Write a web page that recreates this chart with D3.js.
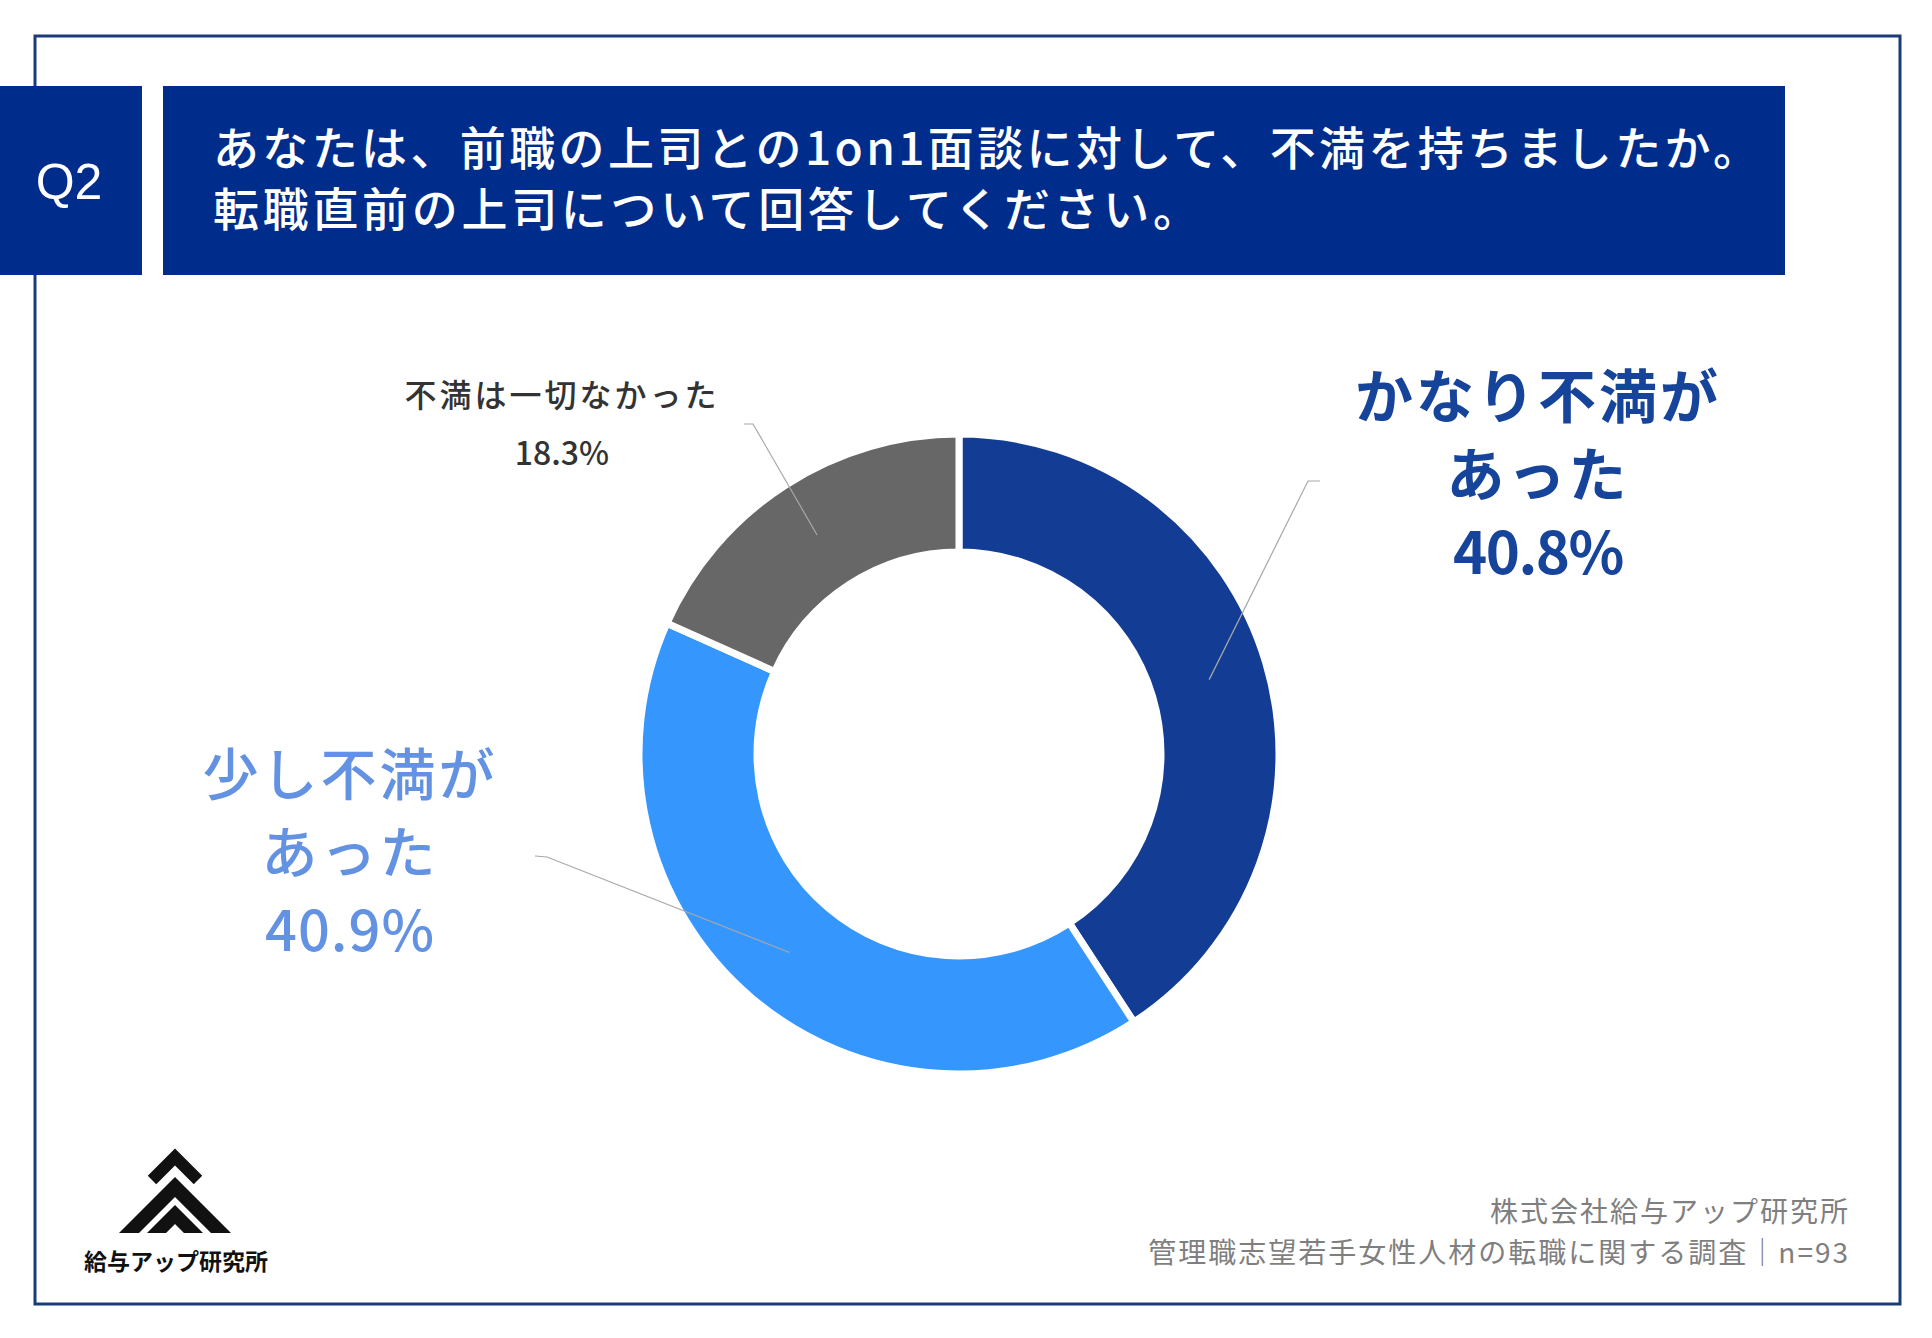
<!DOCTYPE html>
<html>
<head>
<meta charset="utf-8">
<script src="https://cdn.jsdelivr.net/npm/d3@7"></script>
<style>
  html, body { margin: 0; padding: 0; background: #fff; }
  svg { display: block; }
  text { font-family: "Noto Sans CJK JP", "Noto Sans", sans-serif; }
</style>
</head>
<body>
<div id="chart"></div>
<script>
// data
const categories = ["かなり不満があった", "少し不満があった", "不満は一切なかった"];
const shares = [40.8, 40.9, 18.3];
const labelLines = [
  ["かなり不満が", "あった"],
  ["少し不満が", "あった"],
  ["不満は一切なかった"]
];
const sliceColors = ["#133d95", "#3597fe", "#676767"];
const labelColors = ["#17449b", "#6392e2", "#333333"];

const questionNo = "Q2";
const titleLines = [
  "あなたは、前職の上司との1on1面談に対して、不満を持ちましたか。",
  "転職直前の上司について回答してください。"
];
const footerLines = [
  "株式会社給与アップ研究所",
  "管理職志望若手女性人材の転職に関する調査｜n=93"
];
const logoName = "給与アップ研究所";

const config = {
  width: 1932,
  height: 1338,
  cx: 959,
  cy: 754,
  outerRadius: 320,
  innerRadius: 202,
  // label block placement
  labels: [
    { x: 1538, y: 418, gap: 78, size: 58, weight: 700, spacing: 3, pctSpacing: -1.5, elbow: [1320, 481], knee: [1308, 481] },
    { x: 350, y: 795, gap: 78, size: 56, weight: 500, spacing: 3, pctSpacing: 1, elbow: [535, 856], knee: [547, 857] },
    { x: 562, y: 407, gap: 57, size: 32, weight: 500, spacing: 3, pctSpacing: 0, elbow: [744, 424], knee: [753, 424] }
  ]
};

const svg = d3.select("#chart")
  .append("svg")
  .attr("width", config.width)
  .attr("height", config.height);

// outer frame
svg.append("rect")
  .attr("x", 35).attr("y", 36)
  .attr("width", 1865).attr("height", 1268)
  .attr("fill", "none")
  .attr("stroke", "#1b3a78")
  .attr("stroke-width", 3);

// header boxes
svg.append("rect")
  .attr("x", 0).attr("y", 86)
  .attr("width", 142).attr("height", 189)
  .attr("fill", "#002d8b");

svg.append("rect")
  .attr("x", 163).attr("y", 86)
  .attr("width", 1622).attr("height", 189)
  .attr("fill", "#002d8b");

svg.append("text")
  .attr("x", 69).attr("y", 199)
  .attr("text-anchor", "middle")
  .attr("fill", "#fff")
  .style("font-family", "'Liberation Sans', Arial, sans-serif")
  .style("font-size", "50px")
  .text(questionNo);

const titleWidths = [1546, 986];
svg.selectAll(".title-line")
  .data(titleLines)
  .join("text")
  .attr("class", "title-line")
  .attr("x", 213)
  .attr("y", (d, i) => 165 + i * 61)
  .attr("fill", "#fff")
  .attr("textLength", (d, i) => titleWidths[i])
  .attr("lengthAdjust", "spacing")
  .style("font-size", "46px")
  .style("font-weight", 500)
  .text(d => d);

// donut
const pie = d3.pie().sort(null).value(d => d);
const arcs = pie(shares);

const arc = d3.arc()
  .innerRadius(config.innerRadius)
  .outerRadius(config.outerRadius);

const chart = svg.append("g")
  .attr("transform", `translate(${config.cx},${config.cy})`);

chart.selectAll(".slice")
  .data(arcs)
  .join("path")
  .attr("class", "slice")
  .attr("d", arc)
  .attr("fill", (d, i) => sliceColors[i])
  .attr("stroke", "#fff")
  .attr("stroke-width", 7);

// leader lines from slice centroid to label
svg.selectAll(".leader")
  .data(arcs)
  .join("polyline")
  .attr("class", "leader")
  .attr("points", (d, i) => {
    const c = arc.centroid(d);
    const l = config.labels[i];
    return [l.elbow, l.knee, [c[0] + config.cx, c[1] + config.cy]].map(p => p.join(",")).join(" ");
  })
  .attr("fill", "none")
  .attr("stroke", "#a8a8a8")
  .attr("stroke-width", 1.2);

// labels
const labelG = svg.selectAll(".label")
  .data(arcs)
  .join("text")
  .attr("class", "label")
  .attr("text-anchor", "middle")
  .attr("fill", (d, i) => labelColors[i])
  .style("font-size", (d, i) => config.labels[i].size + "px")
  .style("font-weight", (d, i) => config.labels[i].weight);

labelG.each(function (d, i) {
  const l = config.labels[i];
  const lines = labelLines[i].concat([shares[i].toFixed(1) + "%"]);
  const n = lines.length;
  d3.select(this).selectAll("tspan")
    .data(lines)
    .join("tspan")
    .attr("x", l.x)
    .attr("y", (t, j) => l.y + j * l.gap + (i === 2 && j === 1 ? 1 : 0))
    .style("letter-spacing", (t, j) => (j === n - 1 ? l.pctSpacing : l.spacing) + "px")
    .text(t => t);
});

// footer
svg.selectAll(".footer")
  .data(footerLines)
  .join("text")
  .attr("class", "footer")
  .attr("x", 1850)
  .attr("y", (d, i) => 1222 + i * 41)
  .attr("text-anchor", "end")
  .attr("fill", "#7f7f7f")
  .style("font-size", "28px")
  .style("letter-spacing", "2px")
  .text(d => d);

// logo
const logo = svg.append("g").attr("class", "logo");

function chevron(ax, ay, base, thick) {
  const h = base - ay;
  return [
    [ax - h, base], [ax, ay], [ax + h, base],
    [ax + h - thick, base], [ax, ay + thick], [ax - h + thick, base]
  ];
}

logo.append("polyline")
  .attr("points", [[152, 1180], [175, 1157], [198, 1180]].map(p => p.join(",")).join(" "))
  .attr("fill", "none")
  .attr("stroke", "#111")
  .attr("stroke-width", 12)
  .attr("stroke-linejoin", "miter");

[chevron(175, 1177, 1233, 20), chevron(175, 1205, 1233, 19)].forEach(pts => {
  logo.append("polygon")
    .attr("points", pts.map(p => p.join(",")).join(" "))
    .attr("fill", "#111");
});

logo.append("text")
  .attr("x", 176).attr("y", 1270)
  .attr("text-anchor", "middle")
  .attr("fill", "#111")
  .style("font-size", "23px")
  .style("font-weight", 700)
  .text(logoName);
</script>
</body>
</html>
